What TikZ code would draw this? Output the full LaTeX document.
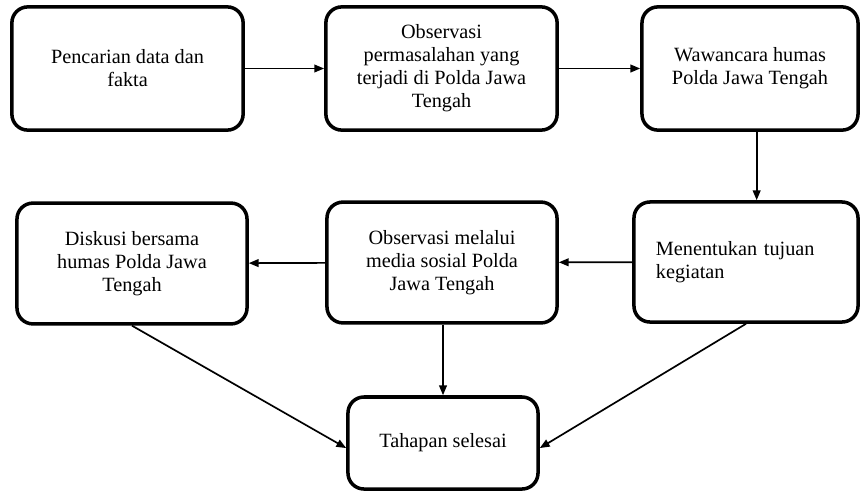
\documentclass[tikz,border=0pt]{standalone}
\usepackage{fontspec}
\setmainfont{Liberation Serif}
\usetikzlibrary{arrows.meta}

\begin{document}
\begin{tikzpicture}[x=0.025cm,y=-0.025cm,
    procbox/.style={draw=black, line width=2.5pt, rounded corners=0.4cm, inner sep=0pt,
        align=center, font=\fontsize{14.4}{16.4}\selectfont},
    panah/.style={line width=1.2pt, -{Triangle[length=7pt,width=5.5pt]}}]

\useasboundingbox (0,0) rectangle (860,493);

% baris atas
\node [procbox,minimum width=5.78cm,minimum height=3.08cm] (cari) at (127.5,68.5)
    {Pencarian data dan\\fakta};
\node [procbox,minimum width=5.78cm,minimum height=3.08cm] (obs1) at (441.5,68.5)
    {Observasi\\permasalahan yang\\terjadi di Polda Jawa\\Tengah};
\node [procbox,minimum width=5.4cm,minimum height=3.08cm] (wawan) at (750,68.5)
    {Wawancara humas\\Polda Jawa Tengah};

% baris tengah
\node [procbox,minimum width=5.6cm,minimum height=3cm,align=left,text width=4.5cm] (tujuan) at (746,262)
    {Menentukan tujuan\\kegiatan};
\node [procbox,minimum width=5.75cm,minimum height=3.02cm] (obs2) at (442,262.5)
    {Observasi melalui\\media sosial Polda\\Jawa Tengah};
\node [procbox,minimum width=5.75cm,minimum height=3.02cm] (diskusi) at (132,263.5)
    {Diskusi bersama\\humas Polda Jawa\\Tengah};

% akhir
\node [procbox,minimum width=4.75cm,minimum height=2.3cm] (selesai) at (443,443)
    {Tahapan selesai};

\draw [panah] (cari) -- (obs1);
\draw [panah] (obs1) -- (wawan);
\draw [panah] (wawan.-84) -- (wawan.-84 |- tujuan.north);
\draw [panah] (tujuan) -- (obs2);
\draw [panah] (obs2) -- (diskusi);
\draw [panah] (selesai.north |- obs2.south) -- (selesai.north);
\draw [panah] (diskusi.south) -- (selesai.183);
\draw [panah] (tujuan.south) -- (selesai.357);

\end{tikzpicture}
\end{document}
